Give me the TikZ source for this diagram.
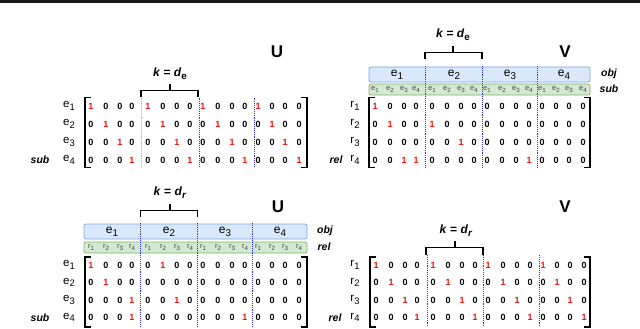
\documentclass[tikz,border=0pt]{standalone}
\usepackage{fontspec}
\usepackage{graphicx}
\setmainfont{Liberation Sans}
\definecolor{objfill}{HTML}{DAE8FC}
\definecolor{objdraw}{HTML}{7EA6E0}
\definecolor{subfill}{HTML}{D5E8D4}
\definecolor{subdraw}{HTML}{82B366}
\definecolor{sepblue}{HTML}{2E2EFF}
\definecolor{seplight}{HTML}{A8AEFF}
\definecolor{onered}{HTML}{F01010}
\definecolor{smallgray}{HTML}{444444}
\newcommand\subs[1]{\raisebox{-0.45ex}{\scalebox{0.82}{#1}}}
\def\colx{{91,106,120,132,148,163,177,190,203,218,232,245,258,272,285,299}}
\newcommand\mymat[5]{% name, dx, top y, row step, rows
  \foreach \rowvals [count=\r] in {#5} {
    \pgfmathsetmacro\ry{#3+(\r-1)*#4}
    \foreach \v [count=\c] in \rowvals {
      \pgfmathsetmacro\cx{\colx[\c-1]+#2}
      \ifnum\v=1 \def\dcol{onered}\else\def\dcol{black}\fi
      \node[dig,text=\dcol] (#1-\r-\c) at (\cx,\ry) {\v};
    }
  }
}
\tikzset{
  dig/.style={inner sep=0pt,font=\fontsize{9}{9}\selectfont\bfseries},
  rowlab/.style={inner sep=0pt,font=\fontsize{11.5}{11.5}\selectfont},
  title/.style={inner sep=0pt,font=\fontsize{17}{17}\selectfont\bfseries},
  klab/.style={inner sep=0pt,font=\fontsize{12}{12}\selectfont\bfseries},
  sidelab/.style={inner sep=0pt,font=\fontsize{10.5}{10.5}\selectfont\bfseries\itshape},
  brk/.style={line width=1.8pt,line cap=rect},
  kbrk/.style={line width=1.4pt},
  sepd/.style={sepblue,line width=0.9pt,densely dotted},
  sepl/.style={seplight,line width=0.9pt,densely dotted},
  objbar/.style={fill=objfill,draw=objdraw,line width=0.8pt,rounded corners=2pt},
  subbar/.style={fill=subfill,draw=subdraw,line width=0.8pt,rounded corners=2pt},
  barlab/.style={inner sep=0pt,font=\fontsize{12}{12}\selectfont},
  smalllab/.style={inner sep=0pt,text=smallgray,font=\fontsize{7.5}{7.5}\selectfont},
}
\begin{document}
\begin{tikzpicture}[x=1pt,y=-1pt]
\useasboundingbox (0,0) rectangle (640,329);
% top rule
\fill[black!90] (0,0) rectangle (640,3.5);

% ================= top-left U =================
\node[title] (tuT) at (277,52) {U};
\node[klab] (tuK) at (170,74) {\textit{k} = \textit{d}\subs{e}};
\draw[kbrk] (141,97) -- (141,90.5) -- (198,90.5) -- (198,97);
\draw[kbrk] (170,90.5) -- (170,84);
\draw[sepl] (141,97.5) -- (141,167.5);
\draw[sepd] (199,97.5) -- (199,167.5);
\draw[sepd] (254,97.5) -- (254,167.5);
\draw[brk] (90,97.5) -- (85,97.5) -- (85,167.5) -- (90,167.5);
\draw[brk] (302,97.5) -- (307,97.5) -- (307,167.5) -- (302,167.5);
\mymat{tu}{0}{106}{18}{{1,0,0,0,1,0,0,0,1,0,0,0,1,0,0,0},{0,1,0,0,0,1,0,0,0,1,0,0,0,1,0,0},{0,0,1,0,0,0,1,0,0,0,1,0,0,0,1,0},{0,0,0,1,0,0,0,1,0,0,0,1,0,0,0,1}}
\foreach \i in {1,...,4} {
  \pgfmathsetmacro\ly{106+(\i-1)*18}
  \node[rowlab] (tuR\i) at (69,\ly) {e\subs{\i}};
}
\node[sidelab] (tuSub) at (40,160) {sub};

% ================= top-right V =================
\node[title] (tvT) at (565,52) {V};
\node[klab] (tvK) at (453,35) {\textit{k} = \textit{d}\subs{e}};
\draw[kbrk] (425,59) -- (425,52.5) -- (482,52.5) -- (482,59);
\draw[kbrk] (453,52.5) -- (453,46);
\draw[objbar] (369,67) rectangle (590,82);
\draw[subbar] (369,84) rectangle (590,95);
\foreach \x [count=\g] in {397,454,510,564} {
  \node[barlab] (tvO\g) at (\x,74.5) {e\subs{\g}};
}
\foreach \g in {0,...,3} {
  \foreach \j in {1,...,4} {
    \pgfmathsetmacro\sx{\colx[\g*4+\j-1]+284}
    \node[smalllab] (tvS\g\j) at (\sx,89.5) {e\subs{\j}};
  }
}
\node[sidelab] (tvObj) at (609,73.5) {obj};
\node[sidelab] (tvSub) at (609,88.5) {sub};
\draw[sepd] (425.5,66) -- (425.5,167.5);
\draw[sepd] (482.5,66) -- (482.5,167.5);
\draw[sepd] (537.5,66) -- (537.5,167.5);
\draw[brk] (374,97.5) -- (369,97.5) -- (369,167.5) -- (374,167.5);
\draw[brk] (585,97.5) -- (590,97.5) -- (590,167.5) -- (585,167.5);
\mymat{tv}{284}{106}{18}{{1,0,0,0,0,0,0,0,0,0,0,0,0,0,0,0},{0,1,0,0,1,0,0,0,0,0,0,0,0,0,0,0},{0,0,0,0,0,0,1,0,0,0,0,0,0,0,0,0},{0,0,1,1,0,0,0,0,0,0,0,1,0,0,0,0}}
\foreach \i in {1,...,4} {
  \pgfmathsetmacro\ly{106+(\i-1)*18}
  \node[rowlab] (tvR\i) at (355,\ly) {r\subs{\i}};
}
\node[sidelab] (tvRel) at (336,160) {rel};

% ================= bottom-left U =================
\node[title] (buT) at (278,207) {U};
\node[klab] (buK) at (170,193) {\textit{k} = \textit{d}\subs{\textit{r}}};
\draw[kbrk] (140.5,217) -- (140.5,210.5) -- (197.5,210.5) -- (197.5,217);
\draw[kbrk] (170,210.5) -- (170,203.5);
\draw[objbar] (84,224) rectangle (307,239);
\draw[subbar] (84,242) rectangle (307,253);
\foreach \x [count=\g] in {112,169,225,280} {
  \node[barlab] (buO\g) at (\x,231.5) {e\subs{\g}};
}
\foreach \g in {0,...,3} {
  \foreach \j in {1,...,4} {
    \pgfmathsetmacro\sx{\colx[\g*4+\j-1]}
    \node[smalllab] (buS\g\j) at (\sx,247.5) {r\subs{\j}};
  }
}
\node[sidelab] (buObj) at (325,231) {obj};
\node[sidelab] (buRel) at (324,247) {rel};
\draw[sepd] (140.5,223) -- (140.5,327);
\draw[sepd] (197.5,223) -- (197.5,327);
\draw[sepd] (252.5,223) -- (252.5,327);
\draw[brk] (90,257) -- (85,257) -- (85,327) -- (90,327);
\draw[brk] (302,257) -- (307,257) -- (307,327) -- (302,327);
\mymat{bu}{0}{265}{17.5}{{1,0,0,0,0,1,0,0,0,0,0,0,0,0,0,0},{0,1,0,0,0,0,0,0,0,0,0,0,0,0,0,0},{0,0,0,1,0,0,1,0,0,0,0,0,0,0,0,0},{0,0,0,1,0,0,0,0,0,0,0,1,0,0,0,0}}
\foreach \i in {1,...,4} {
  \pgfmathsetmacro\ly{265+(\i-1)*17.5}
  \node[rowlab] (buR\i) at (69,\ly) {e\subs{\i}};
}
\node[sidelab] (buSub) at (40,318) {sub};

% ================= bottom-right V =================
\node[title] (bvT) at (565,207) {V};
\node[klab] (bvK) at (456,231) {\textit{k} = \textit{d}\subs{\textit{r}}};
\draw[kbrk] (426,255) -- (426,247.5) -- (483,247.5) -- (483,255);
\draw[kbrk] (455,247.5) -- (455,240.5);
\draw[sepd] (427,255) -- (427,327);
\draw[sepd] (483,255) -- (483,327);
\draw[sepd] (539,255) -- (539,327);
\draw[brk] (375,257) -- (370,257) -- (370,327) -- (375,327);
\draw[brk] (585,257) -- (590,257) -- (590,327) -- (585,327);
\mymat{bv}{285}{265}{17.5}{{1,0,0,0,1,0,0,0,1,0,0,0,1,0,0,0},{0,1,0,0,0,1,0,0,0,1,0,0,0,1,0,0},{0,0,1,0,0,0,1,0,0,0,1,0,0,0,1,0},{0,0,0,1,0,0,0,1,0,0,0,1,0,0,0,1}}
\foreach \i in {1,...,4} {
  \pgfmathsetmacro\ly{265+(\i-1)*17.5}
  \node[rowlab] (bvR\i) at (355,\ly) {r\subs{\i}};
}
\node[sidelab] (bvRel) at (335,318) {rel};
\end{tikzpicture}
\end{document}
